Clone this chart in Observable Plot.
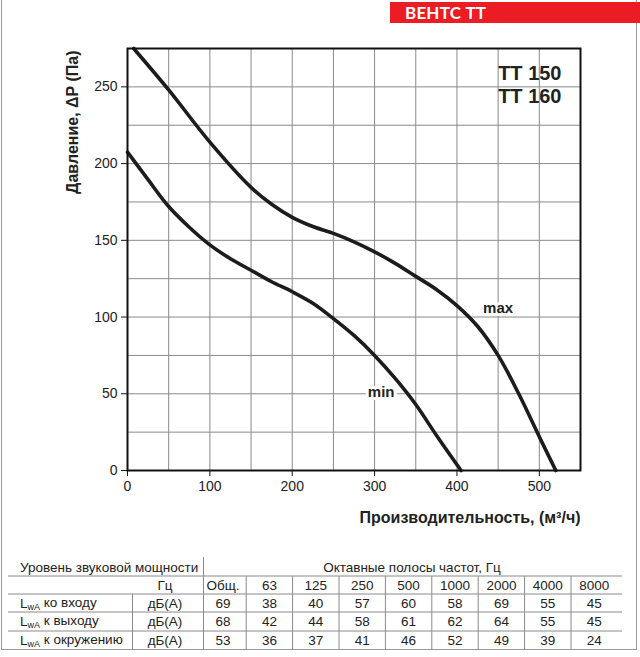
<!DOCTYPE html>
<html><head><meta charset="utf-8">
<script src="https://cdn.jsdelivr.net/npm/d3@7"></script>
<script src="https://cdn.jsdelivr.net/npm/@observablehq/plot@0.6"></script>
<style>
body{margin:0;background:#fff;font-family:"Liberation Sans",Arial,sans-serif;}
#page{position:relative;width:640px;height:657px;overflow:hidden;}
#border{position:absolute;left:1px;top:0;width:636px;height:650px;border-left:1px solid #9a9a9a;border-right:1px solid #9a9a9a;border-bottom:1px solid #9a9a9a;box-sizing:border-box;}
#hdr{position:absolute;left:390px;top:2px;width:250px;height:21px;background:#ec1c24;color:#fff;font-family:Lato,"Open Sans",sans-serif;font-weight:bold;font-size:17px;line-height:21px;padding-left:15px;box-sizing:border-box;letter-spacing:0.2px;}
#chart{position:absolute;left:0;top:0;}
#table{position:absolute;left:0;top:0;}
</style></head>
<body><div id="page"><div id="border"></div><div id="chart"></div><svg id="table" width="640" height="657"></svg><div id="hdr">ВЕНТС ТТ</div></div>
<script>
// ---- data ----
const maxX = [7.5,50,100,150,175,200,225,250,275,300,325,350,375,400,425,450,475,500,520];
const maxY = [275,248,214,184.5,173.5,165,159,154.5,149,142.5,135,126.5,118,107.5,94,75,50,22,0];
const minX = [0,25,50,75,100,125,150,175,200,225,250,275,300,325,350,375,405];
const minY = [207.5,189.5,172,158.5,147,138,130.5,123,116.5,109,99,88,75,60,43,23,0];
const xTicks = [0,100,200,300,400,500];
const yTicks = [0,50,100,150,200,250];
const curveLabels = ["max","min"];
const curveLabelX = [450,308];
const curveLabelY = [106,51];
const modelLabels = ["TT 150","TT 160"];
const modelLabelY = [258.5,243.5];
const modelLabelX = 450;
const yTitle = "Давление, ΔP (Па)";
const xTitle = "Производительность, (м³/ч)";

const tableTitleLeft = "Уровень звуковой мощности";
const tableTitleRight = "Октавные полосы частот, Гц";
const unitHeader = "Гц";
const bands = ["Общ.","63","125","250","500","1000","2000","4000","8000"];
const rowLabels = ["ко входу","к выходу","к окружению"];
const rowUnit = "дБ(А)";
const rowIn = [69,38,40,57,60,58,69,55,45];
const rowOut = [68,42,44,58,61,62,64,55,45];
const rowAmb = [53,36,37,41,46,52,49,39,24];

// ---- chart ----
const maxData = maxX.map((x,i)=>({x, y:maxY[i]}));
const minData = minX.map((x,i)=>({x, y:minY[i]}));
const cl = curveLabels.map((t,i)=>({t, x:curveLabelX[i], y:curveLabelY[i]}));
const ml = modelLabels.map((t,i)=>({t, x:modelLabelX, y:modelLabelY[i]}));

const chart = Plot.plot({
  width: 640, height: 540,
  marginLeft: 127, marginRight: 60, marginTop: 48, marginBottom: 70,
  style: {fontFamily: '"Liberation Sans", Arial, sans-serif', fontSize: "14px", color: "#222", background: "transparent"},
  x: {domain: [0,550]},
  y: {domain: [0,275]},
  marks: [
    Plot.gridX(d3.range(0,551,50), {stroke: "#8a8a8a", strokeOpacity: 1, strokeWidth: 1}),
    Plot.gridY(d3.range(0,276,25), {stroke: "#8a8a8a", strokeOpacity: 1, strokeWidth: 1}),
    Plot.axisX({ticks: xTicks, tickSize: 6, tickPadding: 5, label: null, stroke: "#111"}),
    Plot.axisY({ticks: yTicks, tickSize: 6, tickPadding: 4, label: null, stroke: "#111"}),
    Plot.line(maxData, {x: "x", y: "y", curve: "catmull-rom", stroke: "#1c1c1c", strokeWidth: 3.6}),
    Plot.line(minData, {x: "x", y: "y", curve: "catmull-rom", stroke: "#1c1c1c", strokeWidth: 3.6}),
    Plot.text(cl, {x: "x", y: "y", text: "t", fontWeight: "bold", fontSize: 15, fill: "#222", stroke: "white", strokeWidth: 6, paintOrder: "stroke"}),
    Plot.text(ml, {x: "x", y: "y", text: "t", textAnchor: "start", fontWeight: "bold", fontSize: 20, fill: "#222"}),
    Plot.frame({stroke: "#111", strokeWidth: 2}),
    Plot.text([yTitle], {frameAnchor: "top-left", dx: -61, dy: 2, rotate: -90, textAnchor: "end", fontWeight: "bold", fontSize: 16, fill: "#222"}),
    Plot.text([xTitle], {frameAnchor: "bottom-right", dy: 52, textAnchor: "end", fontWeight: "bold", fontSize: 16, fill: "#222"})
  ]
});
document.getElementById("chart").appendChild(chart);

// ---- table ----
const svg = d3.select("#table");
const lineColor = "#8a8a8a";
const col0 = 223, colW = 46.4;
const colX = bands.map((b,i)=> col0 + i*colW);
const rowsY = [567, 585, 603, 621.5, 640];
const hLinesY = [576, 594, 612, 631];
const fontT = '"Liberation Sans", Arial, sans-serif';

hLinesY.forEach(y => svg.append("line").attr("x1",8).attr("x2",622).attr("y1",y).attr("y2",y).attr("stroke",lineColor).attr("stroke-width",1));
svg.append("line").attr("x1",203.5).attr("x2",203.5).attr("y1",557).attr("y2",650).attr("stroke",lineColor);
svg.append("line").attr("x1",132.5).attr("x2",132.5).attr("y1",594).attr("y2",650).attr("stroke",lineColor);
colX.slice(1).forEach(x => svg.append("line").attr("x1",x-colW/2).attr("x2",x-colW/2).attr("y1",576).attr("y2",650).attr("stroke",lineColor));

function txt(x,y,s,anchor){
  return svg.append("text").attr("x",x).attr("y",y).attr("dy","0.35em").attr("text-anchor",anchor||"middle")
    .attr("font-family",fontT).attr("font-size",13.5).attr("fill","#222").text(s);
}
txt(20, rowsY[0], tableTitleLeft, "start");
txt(412, rowsY[0], tableTitleRight);
txt(165, rowsY[1], unitHeader);
bands.forEach((b,i)=> txt(colX[i], rowsY[1], b));
const rows = [rowIn,rowOut,rowAmb];
rows.forEach((r,ri)=>{
  const y = rowsY[ri+2];
  const t = svg.append("text").attr("x",20).attr("y",y).attr("dy","0.35em")
    .attr("font-family",fontT).attr("font-size",13.5).attr("fill","#222");
  t.append("tspan").text("L");
  t.append("tspan").attr("font-size",9).attr("dy","0.25em").text("wA");
  t.append("tspan").attr("dy","-0.25em").text(" " + rowLabels[ri]);
  txt(165, y, rowUnit);
  r.forEach((v,i)=> txt(colX[i], y, String(v)));
});
</script></body></html>
